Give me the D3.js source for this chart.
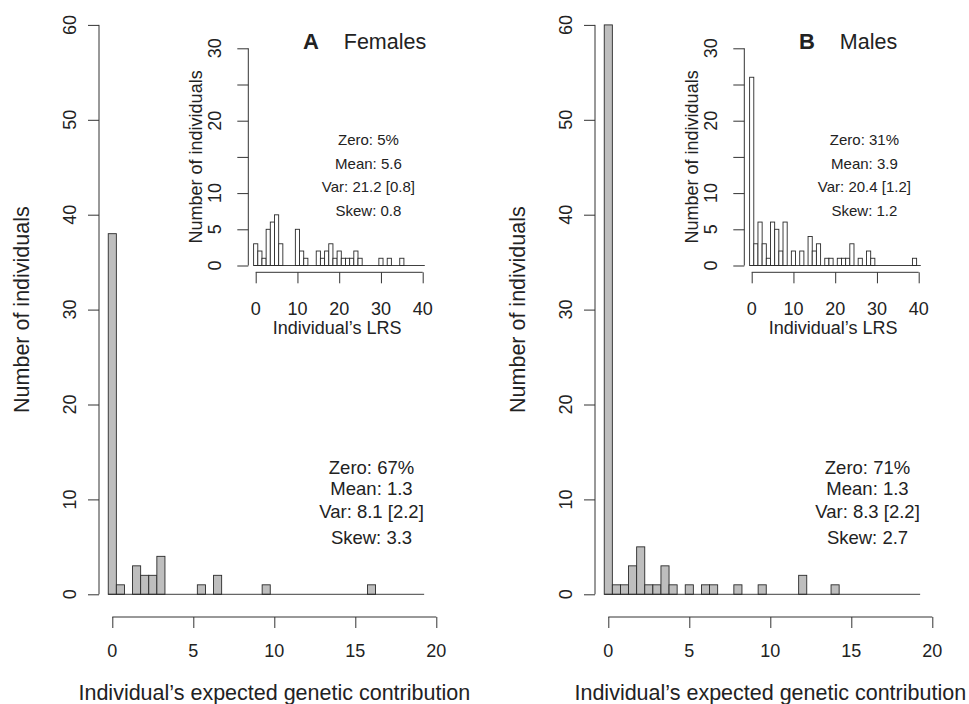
<!DOCTYPE html>
<html>
<head>
<meta charset="utf-8">
<script src="https://cdn.jsdelivr.net/npm/d3@7"></script>
<style>
  body { margin: 0; background: #fff; }
  svg text { font-family: "Liberation Sans", Arial, Helvetica, sans-serif; fill: #222; }
</style>
</head>
<body>
<div id="vizHolder"></div>
<script>
// main histograms: bins of 0.5 centred on 0, 0.5, 1 ... 19
var contribBinStart = 0,
    contribBinWidth = 0.5,
    femaleContrib = [38,1,0,3,2,2,4,0,0,0, 0,1,0,2,0,0,0,0,0,1, 0,0,0,0,0,0,0,0,0,0, 0,0,1,0,0,0,0,0,0],
    maleContrib   = [60,1,1,3,5,1,1,3,1,0, 1,0,1,1,0,0,1,0,0,1, 0,0,0,0,2,0,0,0,1,0, 0,0,0,0,0,0,0,0,0];

// insets: bins of 1 centred on 0 ... 40
var lrsBinStart = 0,
    lrsBinWidth = 1,
    femaleLRS = [3,2,1,5,6,7,3,0,0,0, 5,2,1,0,0,2,1,2,3,1, 2,1,1,1,2,1,0,0,0,0, 1,0,1,0,0,1,0,0,0,0, 0],
    maleLRS   = [26,3,6,3,1,6,5,2,6,0, 2,0,2,0,4,2,3,0,1,1, 0,1,1,1,3,0,1,0,2,1, 0,0,0,0,0,0,0,0,0,1, 0];

var contribTicks = [0, 5, 10, 15, 20],
    countTicks = [0, 10, 20, 30, 40, 50, 60],
    lrsTicks = [0, 10, 20, 30, 40],
    lrsCountTicks = [0, 5, 10, 15, 20, 25, 30],
    lrsCountLabels = [0, 5, 10, 20, 30];

var panelLetters = ['A', 'B'],
    panelNames = ['Females', 'Males'],
    mainStats = [
      ['Zero: 67%', 'Mean: 1.3', 'Var: 8.1 [2.2]', 'Skew: 3.3'],
      ['Zero: 71%', 'Mean: 1.3', 'Var: 8.3 [2.2]', 'Skew: 2.7']
    ],
    insetStats = [
      ['Zero: 5%', 'Mean: 5.6', 'Var: 21.2 [0.8]', 'Skew: 0.8'],
      ['Zero: 31%', 'Mean: 3.9', 'Var: 20.4 [1.2]', 'Skew: 1.2']
    ],
    mainStatY = [13.4, 11.1, 8.7, 6.0],
    insetStatY = [17.4, 14.1, 10.9, 7.6];

var width = 969, height = 704,
    panelShift = 496;

var svg = d3.select('#vizHolder').append('svg')
    .attr('width', width)
    .attr('height', height);

svg.append('rect').attr('width', width).attr('height', height).attr('fill', '#fff');

function histogram(parent, counts, start, binW, x, y, fill) {
  var g = parent.append('g');
  var bins = counts.map(function(n, i) {
    var c = start + i * binW;
    return {x0: c - binW / 2, x1: c + binW / 2, n: n};
  });

  g.selectAll('rect').data(bins.filter(function(d) { return d.n > 0; }))
    .enter().append('rect')
      .attr('x', function(d) { return x(d.x0); })
      .attr('y', function(d) { return y(d.n); })
      .attr('width', function(d) { return x(d.x1) - x(d.x0); })
      .attr('height', function(d) { return y(0) - y(d.n); })
      .attr('fill', fill)
      .attr('stroke', '#2a2a2a')
      .attr('stroke-width', 0.9);

  g.append('line')
    .attr('x1', x(bins[0].x0)).attr('x2', x(bins[bins.length - 1].x1))
    .attr('y1', y(0)).attr('y2', y(0))
    .attr('stroke', '#2a2a2a')
    .attr('stroke-width', 0.9);
}

// R style axes: line spans first to last tick only
function bottomAxis(parent, x, ticks, yPos, fs, labelOff) {
  var a = parent.append('g').attr('transform', 'translate(0,' + yPos + ')')
    .call(d3.axisBottom(x).tickValues(ticks).tickSize(11).tickSizeOuter(0).tickFormat(''));
  a.select('.domain').attr('d', 'M' + x(ticks[0]) + ',0H' + x(ticks[ticks.length - 1]));
  a.selectAll('line, path').attr('stroke', '#333').attr('stroke-width', 1);
  a.selectAll('text.lab').data(ticks).enter().append('text')
    .attr('class', 'lab')
    .attr('x', function(d) { return x(d); })
    .attr('y', labelOff)
    .attr('text-anchor', 'middle')
    .attr('dominant-baseline', 'central')
    .style('font-size', fs + 'px')
    .text(function(d) { return d; });
}

function leftAxis(parent, y, ticks, labels, xPos, fs, labelOff) {
  var a = parent.append('g').attr('transform', 'translate(' + xPos + ',0)')
    .call(d3.axisLeft(y).tickValues(ticks).tickSize(11).tickSizeOuter(0).tickFormat(''));
  a.select('.domain').attr('d', 'M0,' + y(ticks[0]) + 'V' + y(ticks[ticks.length - 1]));
  a.selectAll('line, path').attr('stroke', '#333').attr('stroke-width', 1);
  a.selectAll('text.lab').data(labels).enter().append('text')
    .attr('class', 'lab')
    .attr('transform', function(d) { return 'translate(' + labelOff + ',' + y(d) + ') rotate(-90)'; })
    .attr('text-anchor', 'middle')
    .attr('dominant-baseline', 'central')
    .style('font-size', fs + 'px')
    .text(function(d) { return d; });
}

[femaleContrib, maleContrib].forEach(function(counts, p) {
  var off = p * panelShift;
  var g = svg.append('g');

  /* ----------- main histogram ----------- */
  var x = d3.scaleLinear().domain([0, 20]).range([112.3 + off, 436.3 + off]),
      y = d3.scaleLinear().domain([0, 60]).range([594.3, 24.9]);

  histogram(g, counts, contribBinStart, contribBinWidth, x, y, '#bebebe');
  bottomAxis(g, x, contribTicks, 617, 18, 34);
  leftAxis(g, y, countTicks, countTicks, 99 + off, 18, -29);

  g.append('text')
    .attr('x', x(10)).attr('y', 693)
    .attr('text-anchor', 'middle').attr('dominant-baseline', 'central')
    .style('font-size', '21.5px')
    .text('Individual\u2019s expected genetic contribution');

  g.append('text')
    .attr('transform', 'translate(' + (22 + off) + ',' + y(30) + ') rotate(-90)')
    .attr('text-anchor', 'middle').attr('dominant-baseline', 'central')
    .style('font-size', '21.5px')
    .text('Number of individuals');

  g.selectAll('text.mstat').data(mainStats[p]).enter().append('text')
    .attr('class', 'mstat')
    .attr('x', x(16))
    .attr('y', function(d, i) { return y(mainStatY[i]); })
    .attr('text-anchor', 'middle').attr('dominant-baseline', 'central')
    .style('font-size', '18.5px')
    .text(function(d) { return d; });

  /* ----------- inset ----------- */
  var xi = d3.scaleLinear().domain([0, 40]).range([255.7 + off, 422.7 + off]),
      yi = d3.scaleLinear().domain([0, 30]).range([265.5, 48.3]);
  var lrs = p === 0 ? femaleLRS : maleLRS;

  histogram(g, lrs, lrsBinStart, lrsBinWidth, xi, yi, '#fff');
  bottomAxis(g, xi, lrsTicks, 272.3, 18, 37);
  leftAxis(g, yi, lrsCountTicks, lrsCountLabels, 248.3 + off, 18, -33);

  g.append('text')
    .attr('x', xi(19.5)).attr('y', 328)
    .attr('text-anchor', 'middle').attr('dominant-baseline', 'central')
    .style('font-size', '18px')
    .text('Individual\u2019s LRS');

  g.append('text')
    .attr('transform', 'translate(' + (196 + off) + ',' + yi(15) + ') rotate(-90)')
    .attr('text-anchor', 'middle').attr('dominant-baseline', 'central')
    .style('font-size', '18px')
    .text('Number of individuals');

  g.selectAll('text.istat').data(insetStats[p]).enter().append('text')
    .attr('class', 'istat')
    .attr('x', xi(27))
    .attr('y', function(d, i) { return yi(insetStatY[i]); })
    .attr('text-anchor', 'middle').attr('dominant-baseline', 'central')
    .style('font-size', '15px')
    .text(function(d) { return d; });

  g.append('text')
    .attr('x', xi(11.3)).attr('y', 41.7)
    .attr('dominant-baseline', 'central')
    .style('font-size', '22px').style('font-weight', 'bold')
    .text(panelLetters[p]);

  g.append('text')
    .attr('x', xi(21.1)).attr('y', 41.7)
    .attr('dominant-baseline', 'central')
    .style('font-size', '21.5px')
    .text(panelNames[p]);
});
</script>
</body>
</html>
